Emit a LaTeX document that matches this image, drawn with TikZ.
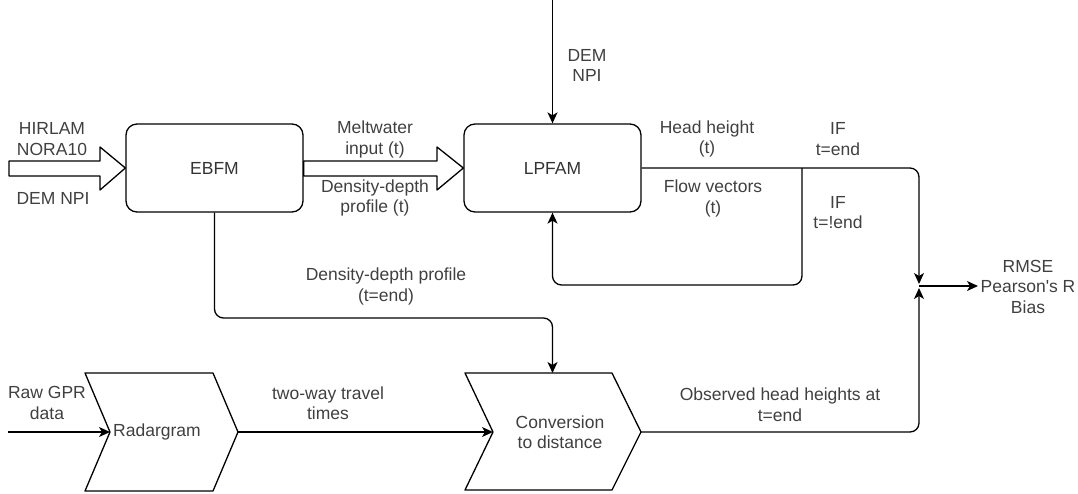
\documentclass[tikz,border=0pt]{standalone}
\usepackage{fontspec}
\setmainfont{Liberation Sans}
\usetikzlibrary{arrows.meta,calc}
\begin{document}
\begin{tikzpicture}[x=1pt,y=-1pt,
  font=\fontsize{17.5}{20.5}\selectfont,
  line width=1.3pt, line join=round,
  box/.style={draw, rounded corners=11pt, minimum width=177pt, minimum height=88pt, inner sep=0pt, text=black!80},
  lbl/.style={align=center, inner sep=0pt, text=black!75},
  conn/.style={draw, rounded corners=9pt, -{Stealth[length=11pt,width=10pt,inset=3pt]}},
  hollow/.style={draw, fill=white},
  chev/.style={draw, fill=white}]
\useasboundingbox (0,0) rectangle (1078,493);

% process boxes
\node[box] (ebfm) at (214.5,168) {EBFM};
\node[box] (lpfam) at (552.5,168) {LPFAM};

% wide (hollow) input arrows
\draw[hollow] (9,161) -- (100,161) -- (100,147) -- (ebfm.west) -- (100,190) -- (100,176) -- (9,176) -- cycle;
\draw[hollow] (ebfm.east |- 0,161) -- (437,161) -- (437,147) -- (lpfam.west) -- (437,190) -- (437,176) -- (ebfm.east |- 0,176) -- cycle;

% chevron steps
\draw[chev] (85,373) -- (213,373) -- (238,432) -- (213,491) -- (85,491) -- (110,432) -- cycle;
\node[lbl] (radar) at (157,432) {Radargram};
\coordinate (radarIn) at (110,432);
\coordinate (radarOut) at (238,432);

\draw[chev] (465,373) -- (612,373) -- (641,432) -- (612,490) -- (465,490) -- (493,432) -- cycle;
\node[lbl] (conv) at (560,432) {Conversion\\to distance};
\coordinate (convIn) at (493,432);
\coordinate (convOut) at (641,432);
\coordinate (convTop) at (552.5,373);

% free ends and junctions
\coordinate (demTop) at (552.5,0);
\coordinate (gprStart) at (8,432);
\coordinate (split) at (802,168);
\coordinate (join) at (919,286);
\coordinate (result) at (978,286);

% connectors
\draw[conn] (demTop) -- (lpfam.north);
\draw[conn, shorten >=2pt] (lpfam.east) -- (join |- lpfam.east) -- (join);
\draw[conn] (split) -- (802,285) -- (lpfam.south |- 0,285) -- (lpfam.south);
\draw[conn] (ebfm.south) -- (ebfm.south |- 0,318) -- (convTop |- 0,318) -- (convTop);
\draw[conn] (gprStart) -- (radarIn);
\draw[conn] (radarOut) -- (convIn);
\draw[conn, shorten >=2pt] (convOut) -- (join |- convOut) -- (join);
\draw[conn] (join) -- (result);

% labels
\node[lbl] (l1) at (52,139) {HIRLAM\\NORA10};
\node[lbl] (l2) at (53,198) {DEM NPI};
\node[lbl] (l3) at (375,139.5) {Meltwater\\input (t)};
\node[lbl] (l4) at (375,198) {Density-depth\\profile (t)};
\node[lbl] (l5) at (587,65.5) {DEM\\NPI};
\node[lbl] (l6) at (707,139) {Head height\\(t)};
\node[lbl] (l7) at (838,139) {IF\\t=end};
\node[lbl] (l8) at (713,198.5) {Flow vectors\\(t)};
\node[lbl] (l9) at (838,212.5) {IF\\t=!end};
\node[lbl] (l10) at (386,286.5) {Density-depth profile\\(t=end)};
\node[lbl] (l11) at (1028,286.5) {RMSE\\Pearson\textquotesingle s R\\Bias};
\node[lbl] (l12) at (47,403) {Raw GPR\\data};
\node[lbl] (l13) at (328,403) {two-way travel\\times};
\node[lbl] (l14) at (780,404.5) {Observed head heights at\\t=end};
\end{tikzpicture}
\end{document}
